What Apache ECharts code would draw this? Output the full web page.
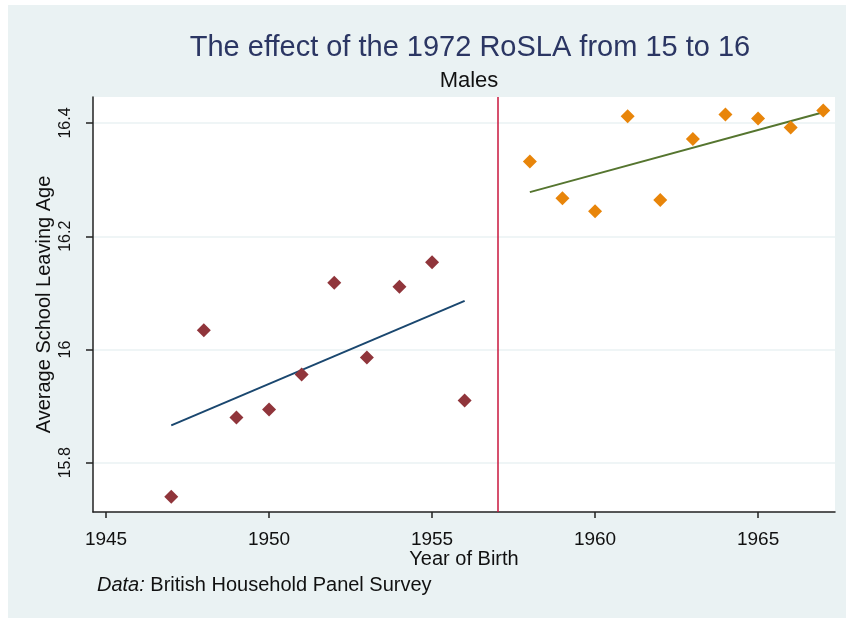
<!DOCTYPE html>
<html>
<head>
<meta charset="utf-8">
<script src="https://cdn.jsdelivr.net/npm/echarts@6/dist/echarts.min.js"></script>
<style>html,body{margin:0;padding:0;background:#fff}#c{width:846px;height:618px}</style>
</head>
<body>
<div id="c"></div>
<script>
// Data
const yearsBefore = [1947, 1948, 1949, 1950, 1951, 1952, 1953, 1954, 1955, 1956];
const ageBefore = [15.740, 16.034, 15.880, 15.894, 15.956, 16.118, 15.986, 16.111, 16.154, 15.910];
const yearsAfter = [1958, 1959, 1960, 1961, 1962, 1963, 1964, 1965, 1966, 1967];
const ageAfter = [16.332, 16.267, 16.244, 16.412, 16.264, 16.372, 16.415, 16.408, 16.392, 16.422];
const fitBeforeYears = [1947, 1956];
const fitBeforeValues = [15.866, 16.086];
const fitAfterYears = [1958, 1967];
const fitAfterValues = [16.278, 16.419];
const cutoffYear = 1957;
const xTicks = [1945, 1950, 1955, 1960, 1965];
const yTicks = [15.8, 16, 16.2, 16.4];

const zip = (a, b) => a.map((v, i) => [v, b[i]]);
const FONT = 'Liberation Sans';

const chart = echarts.init(document.getElementById('c'), null, {renderer: 'canvas'});
chart.setOption({
  animation: false,
  backgroundColor: '#ffffff',
  textStyle: {fontFamily: FONT},
  graphic: [
    {type: 'rect', z: -10, silent: true, shape: {x: 8, y: 5, width: 846, height: 618}, style: {fill: '#eaf2f3'}},
    {type: 'text', left: 97, top: 575, style: {
      text: '{i|Data:} British Household Panel Survey',
      fontFamily: FONT, fontSize: 20, fill: '#111',
      rich: {i: {fontStyle: 'italic', fontFamily: FONT, fontSize: 20, fill: '#111'}}
    }}
  ],
  title: [
    {text: 'The effect of the 1972 RoSLA from 15 to 16', left: 465, textAlign: 'center', top: 28,
     textStyle: {fontFamily: FONT, fontSize: 29, fontWeight: 'normal', color: '#2b3663'}},
    {text: 'Males', left: 464, textAlign: 'center', top: 65,
     textStyle: {fontFamily: FONT, fontSize: 22, fontWeight: 'normal', color: '#111'}}
  ],
  grid: {left: 93, right: 11, top: 97, bottom: 106, backgroundColor: '#ffffff', show: true, borderWidth: 0},
  xAxis: {
    type: 'value', min: 1944.6, max: 1967.36,
    name: 'Year of Birth', nameLocation: 'middle', nameGap: 37, nameMoveOverlap: false,
    nameTextStyle: {fontFamily: FONT, fontSize: 20, color: '#111'},
    axisLine: {show: true, onZero: false, lineStyle: {color: '#222', width: 1.5}},
    axisTick: {show: true, length: 6, customValues: xTicks, lineStyle: {color: '#222', width: 1.5}},
    axisLabel: {customValues: xTicks, margin: 18, fontFamily: FONT, fontSize: 19, color: '#111',
      formatter: v => String(v)},
    splitLine: {show: false}
  },
  yAxis: {
    type: 'value', min: 15.713, max: 16.446,
    name: 'Average School Leaving Age', nameLocation: 'middle', nameGap: 39, nameRotate: 90, nameMoveOverlap: false,
    nameTextStyle: {fontFamily: FONT, fontSize: 20, color: '#111'},
    axisLine: {show: true, onZero: false, lineStyle: {color: '#222', width: 1.5}},
    axisTick: {show: true, length: 7, customValues: yTicks, lineStyle: {color: '#222', width: 1.5}},
    axisLabel: {customValues: yTicks, rotate: 90, margin: 19, fontFamily: FONT, fontSize: 16, color: '#111',
      formatter: v => String(+v.toFixed(1))},
    splitLine: {show: true, lineStyle: {color: '#eaf2f3', width: 1.5}}
  },
  series: [
    {type: 'scatter', data: zip(yearsBefore, ageBefore), symbol: 'diamond', symbolSize: 14,
     itemStyle: {color: '#90353b', opacity: 1}, z: 5},
    {type: 'scatter', data: zip(yearsAfter, ageAfter), symbol: 'diamond', symbolSize: 14,
     itemStyle: {color: '#e8850a', opacity: 1}, z: 5},
    {type: 'line', data: zip(fitBeforeYears, fitBeforeValues), showSymbol: false,
     lineStyle: {color: '#1a476f', width: 2}, z: 4,
     markLine: {silent: true, symbol: 'none', label: {show: false},
       lineStyle: {color: '#c8163c', width: 1.5, type: 'solid'}, data: [{xAxis: cutoffYear}]}},
    {type: 'line', data: zip(fitAfterYears, fitAfterValues), showSymbol: false,
     lineStyle: {color: '#55752f', width: 2}, z: 4}
  ]
});
</script>
</body>
</html>
